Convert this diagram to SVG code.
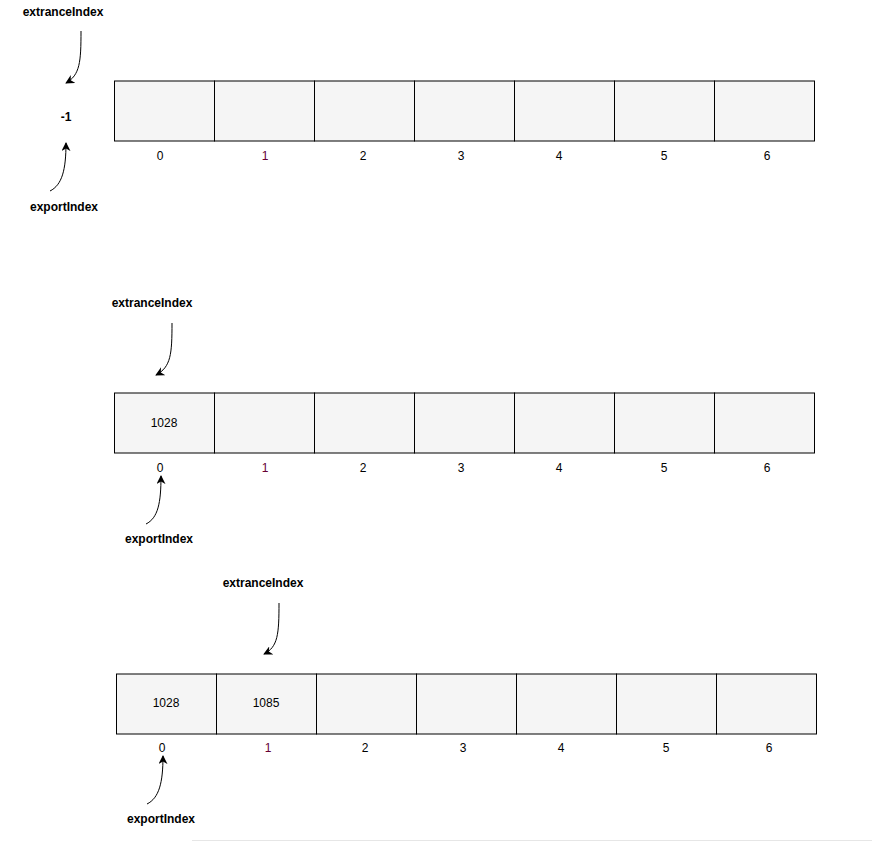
<svg xmlns="http://www.w3.org/2000/svg" width="872" height="841" viewBox="0 0 872 841">
<style>
.cell{fill:#f5f5f5;stroke:#000;stroke-width:1}
.t{font-family:"Liberation Sans",Arial,sans-serif;font-size:12px;text-anchor:middle;fill:#000}
.b{font-weight:bold}
.m{fill:#660033}
.e{fill:none;stroke:#000;stroke-width:1;marker-end:url(#ah)}
</style>
<defs>
<marker id="ah" viewBox="0 0 10 10" refX="9" refY="5" markerWidth="9" markerHeight="9" markerUnits="userSpaceOnUse" orient="auto">
<path d="M0,0 L10,5 L0,10 L3,5 z" fill="#000"/>
</marker>
</defs>
<rect width="872" height="841" fill="#fff"/>
<line x1="192" y1="840.5" x2="872" y2="840.5" stroke="#e6e6e6"/>

<g id="array1">
<rect class="cell" x="114.5" y="81" width="100" height="60"/>
<rect class="cell" x="214.5" y="81" width="100" height="60"/>
<rect class="cell" x="314.5" y="81" width="100" height="60"/>
<rect class="cell" x="414.5" y="81" width="100" height="60"/>
<rect class="cell" x="514.5" y="81" width="100" height="60"/>
<rect class="cell" x="614.5" y="81" width="100" height="60"/>
<rect class="cell" x="714.5" y="81" width="100" height="60"/>
<text class="t" x="160" y="160">0</text>
<text class="t m" x="265" y="160">1</text>
<text class="t" x="363" y="160">2</text>
<text class="t" x="461" y="160">3</text>
<text class="t" x="559" y="160">4</text>
<text class="t" x="664" y="160">5</text>
<text class="t" x="767" y="160">6</text>
</g>
<g id="label1-extrance"><text class="t b" x="63" y="16">extranceIndex</text></g>
<g id="label1-value"><text class="t b" x="66" y="121">-1</text></g>
<g id="label1-export"><text class="t b" x="64" y="211">exportIndex</text></g>

<g id="array2">
<rect class="cell" x="114.5" y="393" width="100" height="60"/>
<rect class="cell" x="214.5" y="393" width="100" height="60"/>
<rect class="cell" x="314.5" y="393" width="100" height="60"/>
<rect class="cell" x="414.5" y="393" width="100" height="60"/>
<rect class="cell" x="514.5" y="393" width="100" height="60"/>
<rect class="cell" x="614.5" y="393" width="100" height="60"/>
<rect class="cell" x="714.5" y="393" width="100" height="60"/>
<text class="t" x="164" y="427">1028</text>
<text class="t" x="160" y="472">0</text>
<text class="t m" x="265" y="472">1</text>
<text class="t" x="363" y="472">2</text>
<text class="t" x="461" y="472">3</text>
<text class="t" x="559" y="472">4</text>
<text class="t" x="664" y="472">5</text>
<text class="t" x="767" y="472">6</text>
</g>
<g id="label2-extrance"><text class="t b" x="152" y="307">extranceIndex</text></g>
<g id="label2-export"><text class="t b" x="159" y="543">exportIndex</text></g>

<g id="array3">
<rect class="cell" x="116.5" y="674" width="100" height="60"/>
<rect class="cell" x="216.5" y="674" width="100" height="60"/>
<rect class="cell" x="316.5" y="674" width="100" height="60"/>
<rect class="cell" x="416.5" y="674" width="100" height="60"/>
<rect class="cell" x="516.5" y="674" width="100" height="60"/>
<rect class="cell" x="616.5" y="674" width="100" height="60"/>
<rect class="cell" x="716.5" y="674" width="100" height="60"/>
<text class="t" x="166" y="707">1028</text>
<text class="t" x="266" y="707">1085</text>
<text class="t" x="162" y="752">0</text>
<text class="t m" x="268" y="752">1</text>
<text class="t" x="365" y="752">2</text>
<text class="t" x="463" y="752">3</text>
<text class="t" x="561" y="752">4</text>
<text class="t" x="666" y="752">5</text>
<text class="t" x="769" y="752">6</text>
</g>
<g id="label3-extrance"><text class="t b" x="263" y="587">extranceIndex</text></g>
<g id="label3-export"><text class="t b" x="161" y="823">exportIndex</text></g>

<g id="connectors">
<path class="e" d="M81,31 C81,62 80,75 66,83"/>
<path class="e" d="M50,191 C62,185 66,170 66,143"/>
<path class="e" d="M172,323 C172,354 171,367 156,375"/>
<path class="e" d="M146,524 C158,518 161,503 161,476"/>
<path class="e" d="M279,603 C279,634 278,647 264,654"/>
<path class="e" d="M147,804 C159,798 163,783 163,756"/>
</g>
</svg>
